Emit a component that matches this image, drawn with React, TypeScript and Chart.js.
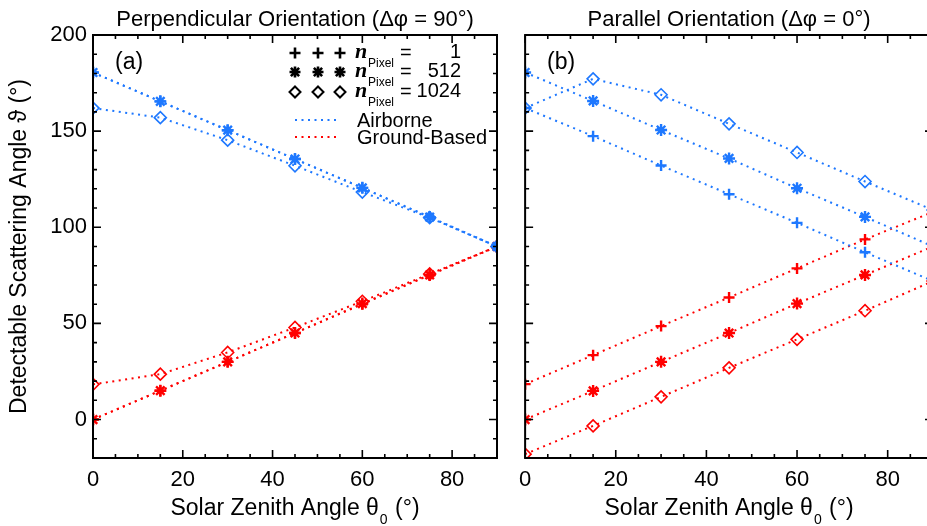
import React, { useEffect, useRef } from 'react';
import { Chart, registerables } from 'chart.js';

Chart.register(...registerables);

// ---------- data ----------
const ANGLES = [0, 15, 30, 45, 60, 75, 90];

// Panel (a): perpendicular orientation
const perpAirN1 = [180.5, 165.5, 150.5, 135.5, 120.5, 105.3, 90];
const perpAirN512 = [180.5, 165.5, 150.5, 135.5, 120.5, 105.3, 90];
const perpAirN1024 = [162, 157, 145.3, 132, 118.3, 105, 90];
const perpGroundN1 = [0, 15, 30, 45, 60, 75.2, 90];
const perpGroundN512 = [0, 15, 30, 45, 60.3, 75.2, 90];
const perpGroundN1024 = [18.3, 23.6, 34.9, 47.9, 61.5, 75.7, 90];

// Panel (b): parallel orientation
const paraAirN1 = [162, 147.4, 132.1, 117.2, 102.3, 87, 72];
const paraAirN512 = [180.5, 165.7, 150.6, 135.8, 120.3, 105.4, 90];
const paraAirN1024 = [162, 177.2, 168.9, 153.8, 138.9, 123.8, 109];
const paraGroundN1 = [18.4, 33.5, 48.6, 63.5, 78.6, 93.7, 108];
const paraGroundN512 = [0, 14.9, 30, 45, 60.3, 75.2, 90];
const paraGroundN1024 = [-18, -3.3, 11.8, 26.9, 41.7, 56.6, 72];

const X_TICKS = [0, 20, 40, 60, 80];
const Y_TICKS = [0, 50, 100, 150, 200];
const N_PIXEL = ['1', '512', '1024'];
const LINE_LABELS = ['Airborne', 'Ground-Based'];

const BLUE = '#1E78FF';
const RED = '#FF0000';
const SANS = '"Liberation Sans", Arial, Helvetica, sans-serif';
const SERIF = '"Liberation Serif", "Times New Roman", serif';
const DASH = [2, 4.5];

function series(vals: number[], color: string, style: string) {
  const radius = style === 'cross' ? 5.5 : 6;
  return {
    data: ANGLES.map((x, i) => ({ x, y: vals[i] })),
    showLine: true,
    borderColor: color,
    borderWidth: 2,
    borderDash: DASH,
    borderCapStyle: 'butt',
    tension: 0,
    fill: false,
    pointStyle: style,
    pointRadius: radius,
    pointHoverRadius: radius,
    pointBorderColor: color,
    pointBackgroundColor: 'rgba(0,0,0,0)',
    pointBorderWidth: style === 'rectRot' ? 1.6 : 2.4,
  };
}

// draw inward ticks on all four sides + frame
const framePlugin = {
  id: 'frame',
  afterDatasetsDraw(chart: any) {
    const { ctx, chartArea: a, scales } = chart;
    const xs = scales.x;
    const ys = scales.y;
    ctx.save();
    ctx.strokeStyle = '#000';
    ctx.lineWidth = 1.6;
    ctx.beginPath();
    for (let v = xs.min; v <= xs.max + 1e-9; v += 5) {
      const px = xs.getPixelForValue(v);
      const L = v % 20 === 0 ? 8 : 4;
      ctx.moveTo(px, a.bottom);
      ctx.lineTo(px, a.bottom - L);
      ctx.moveTo(px, a.top);
      ctx.lineTo(px, a.top + L);
    }
    for (let v = ys.min; v <= ys.max + 1e-9; v += 10) {
      const py = ys.getPixelForValue(v);
      const L = v % 50 === 0 ? 8 : 4;
      ctx.moveTo(a.left, py);
      ctx.lineTo(a.left + L, py);
      ctx.moveTo(a.right, py);
      ctx.lineTo(a.right - L, py);
    }
    ctx.stroke();
    ctx.lineWidth = 2;
    ctx.strokeRect(a.left, a.top, a.right - a.left, a.bottom - a.top);
    ctx.restore();
  },
};

function drawMarker(ctx: CanvasRenderingContext2D, kind: string, x: number, y: number, r: number) {
  ctx.beginPath();
  if (kind === 'cross' || kind === 'star') {
    ctx.moveTo(x - r, y);
    ctx.lineTo(x + r, y);
    ctx.moveTo(x, y - r);
    ctx.lineTo(x, y + r);
  }
  if (kind === 'star') {
    const d = r * 0.75;
    ctx.moveTo(x - d, y - d);
    ctx.lineTo(x + d, y + d);
    ctx.moveTo(x - d, y + d);
    ctx.lineTo(x + d, y - d);
  }
  if (kind === 'rectRot') {
    ctx.moveTo(x, y - r);
    ctx.lineTo(x + r, y);
    ctx.lineTo(x, y + r);
    ctx.lineTo(x - r, y);
    ctx.closePath();
  }
  ctx.stroke();
}

const decoPlugin = {
  id: 'deco',
  afterDraw(chart: any) {
    const o = chart.options.plugins.deco;
    if (!o) return;
    const { ctx, chartArea: a } = chart;
    const cx = (a.left + a.right) / 2;
    ctx.save();
    ctx.fillStyle = '#000';
    ctx.textBaseline = 'alphabetic';

    // panel title
    ctx.font = `22px ${SANS}`;
    ctx.textAlign = 'center';
    ctx.fillText(o.title, cx, 26);

    // panel tag
    ctx.font = `23px ${SANS}`;
    ctx.textAlign = 'left';
    ctx.fillText(o.tag, a.left + 22, 69);

    // x-axis title with subscript
    const big = `23px ${SANS}`;
    const small = `14px ${SANS}`;
    const p1 = 'Solar Zenith Angle \u03B8';
    const p2 = '0';
    const p3 = ' (\u00B0)';
    ctx.font = big;
    const w1 = ctx.measureText(p1).width;
    const w3 = ctx.measureText(p3).width;
    ctx.font = small;
    const w2 = ctx.measureText(p2).width;
    const x0 = cx - (w1 + w2 + w3 + 2) / 2;
    const base = 515;
    ctx.font = big;
    ctx.fillText(p1, x0, base);
    ctx.font = small;
    ctx.fillText(p2, x0 + w1 + 1, base + 9);
    ctx.font = big;
    ctx.fillText(p3, x0 + w1 + w2 + 2, base);

    if (o.yTitle) {
      ctx.save();
      ctx.translate(26, (a.top + a.bottom) / 2);
      ctx.rotate(-Math.PI / 2);
      ctx.textAlign = 'center';
      ctx.font = big;
      ctx.fillText('Detectable Scattering Angle \u03D1 (\u00B0)', 0, 0);
      ctx.restore();
    }

    if (o.legend) {
      const rowsY = [53, 72, 92];
      const kinds = ['cross', 'star', 'rectRot'];
      const mx = [295, 318, 340];
      ctx.strokeStyle = '#000';
      rowsY.forEach((ry, i) => {
        ctx.lineWidth = kinds[i] === 'rectRot' ? 2 : 2.6;
        mx.forEach((xx) => drawMarker(ctx, kinds[i], xx, ry, 5.5));
        ctx.textAlign = 'left';
        ctx.font = `bold italic 22px ${SERIF}`;
        ctx.fillText('n', 355, ry + 5);
        ctx.font = `12px ${SANS}`;
        ctx.fillText('Pixel', 368, ry + 14);
        ctx.font = `20px ${SANS}`;
        ctx.fillText('=', 400, ry + 6);
        ctx.textAlign = 'right';
        ctx.fillText(N_PIXEL[i], 461, ry + 5);
      });
      const lineRows = [
        { y: 120, color: BLUE, text: LINE_LABELS[0] },
        { y: 137, color: RED, text: LINE_LABELS[1] },
      ];
      lineRows.forEach((r) => {
        ctx.save();
        ctx.strokeStyle = r.color;
        ctx.lineWidth = 2;
        ctx.setLineDash(DASH);
        ctx.beginPath();
        ctx.moveTo(295, r.y);
        ctx.lineTo(340, r.y);
        ctx.stroke();
        ctx.restore();
        ctx.textAlign = 'left';
        ctx.font = `20px ${SANS}`;
        ctx.fillText(r.text, 357, r.y + 7);
      });
    }
    ctx.restore();
  },
};

function makeConfig(p: any): any {
  return {
    type: 'scatter',
    data: { datasets: p.datasets },
    options: {
      responsive: false,
      animation: false,
      devicePixelRatio: 1,
      events: [],
      layout: { padding: { top: 35, right: p.padRight, left: 0, bottom: 0 }, autoPadding: false },
      plugins: {
        legend: { display: false },
        tooltip: { enabled: false },
        title: { display: false },
        deco: p.deco,
      },
      scales: {
        x: {
          type: 'linear',
          min: 0,
          max: 90,
          grid: { display: false, drawTicks: false },
          border: { display: false },
          afterBuildTicks: (s: any) => {
            s.ticks = X_TICKS.map((v) => ({ value: v }));
          },
          afterFit: (s: any) => {
            s.height = 68;
          },
          ticks: {
            font: { family: SANS, size: 22 },
            color: '#000',
            padding: 9,
            maxRotation: 0,
            autoSkip: false,
          },
        },
        y: {
          type: 'linear',
          min: -20,
          max: 200,
          grid: { display: false, drawTicks: false },
          border: { display: false },
          afterBuildTicks: (s: any) => {
            s.ticks = Y_TICKS.map((v) => ({ value: v }));
          },
          afterFit: (s: any) => {
            s.width = p.yWidth;
          },
          ticks: {
            display: p.showY,
            font: { family: SANS, size: 22 },
            color: '#000',
            padding: 6,
            autoSkip: false,
          },
        },
      },
    },
    plugins: [framePlugin, decoPlugin],
  };
}

export default function App() {
  const leftRef = useRef<HTMLCanvasElement>(null);
  const rightRef = useRef<HTMLCanvasElement>(null);

  useEffect(() => {
    const left = new Chart(
      leftRef.current as HTMLCanvasElement,
      makeConfig({
        padRight: 15,
        yWidth: 93,
        showY: true,
        deco: { title: 'Perpendicular Orientation (\u0394\u03C6 = 90\u00B0)', tag: '(a)', yTitle: true, legend: true },
        datasets: [
          series(perpAirN1, BLUE, 'cross'),
          series(perpAirN512, BLUE, 'star'),
          series(perpAirN1024, BLUE, 'rectRot'),
          series(perpGroundN1, RED, 'cross'),
          series(perpGroundN512, RED, 'star'),
          series(perpGroundN1024, RED, 'rectRot'),
        ],
      })
    );
    const right = new Chart(
      rightRef.current as HTMLCanvasElement,
      makeConfig({
        padRight: 7,
        yWidth: 13,
        showY: false,
        deco: { title: 'Parallel Orientation (\u0394\u03C6 = 0\u00B0)', tag: '(b)', yTitle: false, legend: false },
        datasets: [
          series(paraAirN1, BLUE, 'cross'),
          series(paraAirN512, BLUE, 'star'),
          series(paraAirN1024, BLUE, 'rectRot'),
          series(paraGroundN1, RED, 'cross'),
          series(paraGroundN512, RED, 'star'),
          series(paraGroundN1024, RED, 'rectRot'),
        ],
      })
    );
    return () => {
      left.destroy();
      right.destroy();
    };
  }, []);

  return (
    <div
      style={{
        position: 'absolute',
        left: 0,
        top: 0,
        width: 927,
        height: 526,
        overflow: 'hidden',
        background: '#fff',
      }}
    >
      <canvas ref={leftRef} width={512} height={526} style={{ position: 'absolute', left: 0, top: 0 }} />
      <canvas ref={rightRef} width={430} height={526} style={{ position: 'absolute', left: 510, top: 0 }} />
    </div>
  );
}
